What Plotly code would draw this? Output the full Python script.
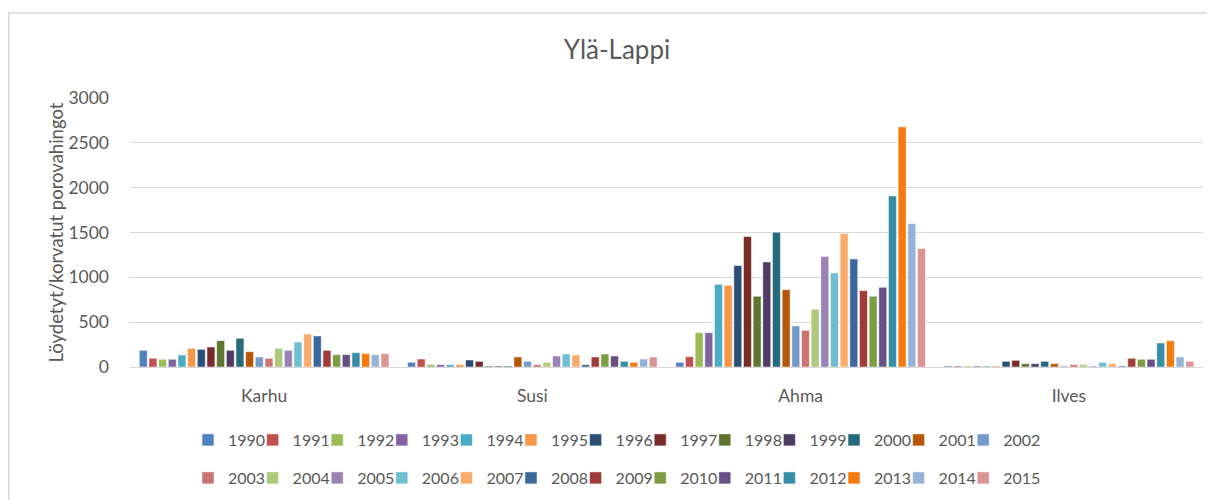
import plotly.graph_objects as go

categories = ["Karhu", "Susi", "Ahma", "Ilves"]
years = [str(y) for y in range(1990, 2016)]

# values per year: [Karhu, Susi, Ahma, Ilves]
v1990 = [186, 52, 52, 11]
v1991 = [97, 89, 115, 11]
v1992 = [86, 26, 383, 11]
v1993 = [86, 26, 383, 11]
v1994 = [134, 26, 922, 11]
v1995 = [208, 26, 911, 11]
v1996 = [197, 78, 1131, 63]
v1997 = [223, 63, 1455, 74]
v1998 = [294, 11, 789, 37]
v1999 = [186, 11, 1172, 37]
v2000 = [320, 11, 1503, 63]
v2001 = [171, 112, 863, 37]
v2002 = [112, 63, 458, 11]
v2003 = [97, 26, 409, 26]
v2004 = [208, 52, 644, 26]
v2005 = [186, 123, 1231, 11]
v2006 = [279, 145, 1049, 52]
v2007 = [368, 134, 1488, 37]
v2008 = [346, 26, 1205, 11]
v2009 = [186, 112, 852, 97]
v2010 = [138, 145, 789, 86]
v2011 = [138, 123, 889, 86]
v2012 = [160, 63, 1908, 268]
v2013 = [149, 52, 2678, 294]
v2014 = [138, 89, 1600, 112]
v2015 = [149, 112, 1321, 63]

series = [v1990, v1991, v1992, v1993, v1994, v1995, v1996, v1997, v1998, v1999,
          v2000, v2001, v2002, v2003, v2004, v2005, v2006, v2007, v2008, v2009,
          v2010, v2011, v2012, v2013, v2014, v2015]

colors = ["#4F81BD", "#C0504D", "#9BBB59", "#8064A2", "#4BACC6", "#F79646",
          "#2C4D75", "#772C2A", "#5F7530", "#4D3B62", "#276A7C", "#B65708",
          "#729ACA", "#CD7371", "#AFC97A", "#9983B5", "#6FBDD1", "#F9AB6B",
          "#3A679C", "#9F3B38", "#7E9C40", "#664F83", "#358EA6", "#F47A0E",
          "#95B3D7", "#D99694"]

FONT = "Lato, 'Open Sans', sans-serif"
GREY = "#595959"

fig = go.Figure()
for i, (yr, vals) in enumerate(zip(years, series)):
    fig.add_trace(go.Bar(
        x=categories, y=vals, name=yr,
        marker=dict(color=colors[i], line=dict(color="white", width=0.5)),
        legend="legend" if i < 13 else "legend2",
    ))

# invisible spacer entries so the last legend label is not clipped
for lg in ["legend", "legend2"]:
    fig.add_trace(go.Scatter(x=[None], y=[None], mode="markers", name=" ",
                             marker=dict(color="rgba(0,0,0,0)"),
                             hoverinfo="skip", legend=lg))

# the page shows the figure offset by 8px (body margin); coordinates below are figure coords
W, H = 1215, 500
L, R, T, B = 122, 20, 90, 141
pw = W - L - R
ph = H - T - B

def px_x(x):
    return (x - L) / pw

def px_y(y):
    return (H - B - y) / ph

leg_common = dict(
    orientation="h", xanchor="left", yanchor="middle",
    x=px_x(199 - 14 - 5), font=dict(family=FONT, size=16, color=GREY),
    entrywidth=19.6, entrywidthmode="pixels", itemwidth=30,
    bgcolor="rgba(0,0,0,0)", itemclick=False, itemdoubleclick=False,
)

fig.update_layout(
    width=W, height=H,
    margin=dict(l=L, r=R, t=T, b=B, autoexpand=False),
    paper_bgcolor="white", plot_bgcolor="white",
    barmode="group", bargap=0.063, bargroupgap=0.18,
    font=dict(family=FONT, color=GREY),
    title=dict(text="Ylä-Lappi", x=px_x(609), xanchor="center", xref="paper",
               y=1 - 42 / H, yanchor="middle",
               font=dict(family=FONT, size=26, color=GREY)),
    legend=dict(y=px_y(432), **leg_common),
    legend2=dict(y=px_y(470), **leg_common),
    xaxis=dict(showgrid=False, showline=True, linecolor="#d9d9d9", linewidth=1,
               ticks="", tickfont=dict(family=FONT, size=17.5, color=GREY),
               ticklabelstandoff=13),
    yaxis=dict(range=[0, 3000], dtick=500, showgrid=True, gridcolor="#d9d9d9",
               gridwidth=1, zeroline=False, showline=False, ticks="",
               tickfont=dict(family=FONT, size=17.5, color=GREY),
               ticklabelstandoff=20),
    annotations=[dict(text="Löydetyt/korvatut porovahingot", textangle=-90,
                      xref="paper", yref="paper", x=px_x(47), y=0.5,
                      xanchor="center", yanchor="middle", showarrow=False,
                      font=dict(family=FONT, size=18.5, color=GREY))],
    shapes=[dict(type="rect", xref="paper", yref="paper",
                 x0=px_x(0.75), x1=px_x(1212), y0=px_y(520), y1=px_y(5),
                 line=dict(color="#d9d9d9", width=1.5), layer="below")],
    showlegend=True,
)

fig.write_html("out.html")
